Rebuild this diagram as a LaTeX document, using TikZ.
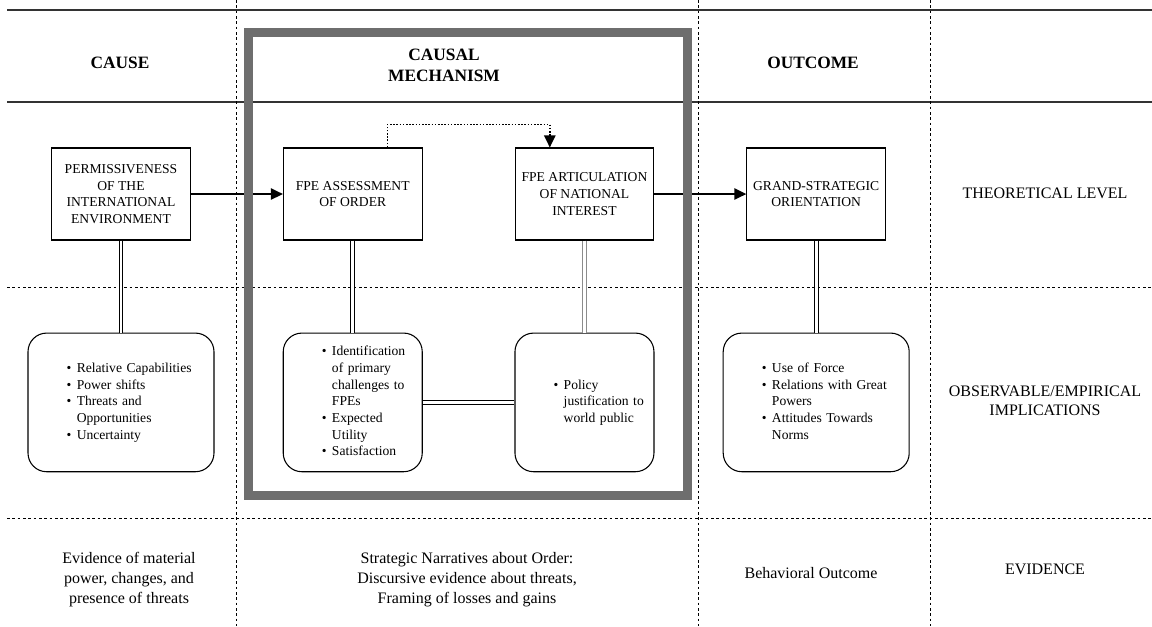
\documentclass[tikz,border=0pt]{standalone}
\usepackage{fontspec}
\setmainfont{Liberation Serif}
\usetikzlibrary{arrows.meta,positioning}
\definecolor{mechgray}{HTML}{6E6E6E}
\newcommand{\bulletlist}[1]{\noindent\begin{tabular}{@{\hspace{29pt}}c@{\hspace{4pt}}l@{}}#1\end{tabular}}
\tikzset{
    %Define standard arrow tip
    >={Triangle[length=9pt,width=8.5pt]},
    %Define style for boxes
    levelbox/.style={
           rectangle,
           draw=black, line width=0.8pt,
           minimum width=104pt,
           minimum height=69pt,
           align=center,
           font=\fontsize{10.2}{12.5}\selectfont},
    obsbox/.style={
           rectangle,
           rounded corners=14pt,
           draw=black, line width=0.8pt,
           inner sep=0pt,
           text width=#1,
           minimum height=104pt,
           align=left,
           font=\fontsize{10.2}{12.5}\selectfont},
    obsbox/.default=104.25pt,
    colhead/.style={font=\fontsize{13}{15.75}\selectfont\bfseries, align=center},
    rowlabel/.style={font=\fontsize{12}{14.25}\selectfont, align=center},
    evid/.style={font=\fontsize{12}{15}\selectfont, align=center},
    % Define arrow style
    pil/.style={->, line width=1.3pt},
    dotpil/.style={->, line width=1.2pt, dash pattern=on 1.2pt off 1.2pt},
    dline/.style={double, double distance=2pt, line width=0.75pt},
    solidrule/.style={line width=1.3pt, draw=black!80},
    gridline/.style={line width=0.7pt, dash pattern=on 2pt off 2pt}
}
\begin{document}
\begin{tikzpicture}[x=0.75pt,y=-0.75pt,node distance=69pt]
\useasboundingbox (0,0) rectangle (1152,626);

 %table lines
\draw[solidrule] (7,10) -- (1152,10);
\draw[solidrule] (7,102) -- (1152,102);
\foreach \y in {287,518}
  \draw[gridline] (7,\y) -- (1152,\y);
\foreach \x in {236,698,930}
  \draw[gridline] (\x,0) -- (\x,626);

 %column heads
\node[colhead] (cause) at (120,63) {CAUSE};
\node[colhead] (mech) at (444,65) {CAUSAL\\MECHANISM};
\node[colhead] (outcome) at (813,63) {OUTCOME};

 %row labels
\node[rowlabel] (theory) at (1045,193) {THEORETICAL LEVEL};
\node[rowlabel] (observ) at (1045,401) {OBSERVABLE/EMPIRICAL\\IMPLICATIONS};
\node[rowlabel] (evidence) at (1045,569) {EVIDENCE};

 %nodes
\node[levelbox] (perm) at (121,194) {PERMISSIVENESS\\OF THE\\INTERNATIONAL\\ENVIRONMENT};
\node[levelbox, right=of perm] (assess) {FPE ASSESSMENT\\OF ORDER};
\node[levelbox, right=of assess] (artic) {FPE ARTICULATION\\OF NATIONAL\\INTEREST};
\node[levelbox, right=of artic] (grand) {GRAND-STRATEGIC\\ORIENTATION};

\node[obsbox=139.5pt, below=of perm] (obsP) {\bulletlist{
  \textbullet & Relative Capabilities\\
  \textbullet & Power shifts\\
  \textbullet & Threats and\\
   & Opportunities\\
  \textbullet & Uncertainty}};
\node[obsbox, below=of assess] (obsA) {\bulletlist{
  \textbullet & Identification\\
   & of primary\\
   & challenges to\\
   & FPEs\\
  \textbullet & Expected\\
   & Utility\\
  \textbullet & Satisfaction}};
\node[obsbox, below=of artic] (obsN) {\bulletlist{
  \textbullet & Policy\\
   & justification to\\
   & world public}};
\node[obsbox=139.5pt, below=of grand] (obsG) {\bulletlist{
  \textbullet & Use of Force\\
  \textbullet & Relations with Great\\
   & Powers\\
  \textbullet & Attitudes Towards\\
   & Norms}};

 %evidence
\node[evid] (evmat) at (129,580) {Evidence of material\\power, changes, and\\presence of threats};
\node[evid] (evnarr) at (467,580) {Strategic Narratives about Order:\\Discursive evidence about threats,\\Framing of losses and gains};
\node[evid] (evbeh) at (811,573) {Behavioral Outcome};

 %connectors
\draw[pil] (perm) -- (assess);
\draw[pil] (artic) -- (grand);
\draw[dotpil] ([xshift=26pt]assess.north) -- ++(0,-23) -| ([xshift=-26pt]artic.north);
\draw[dline] (perm.south) -- (obsP.north);
\draw[dline] (assess.south) -- (obsA.north);
\draw[dline, draw=black!45] (artic.south) -- (obsN.north);
\draw[dline] (grand.south) -- (obsG.north);
\draw[dline] (obsA) -- (obsN);

 %causal mechanism frame
\draw[line width=6.75pt, mechgray] (248,32) rectangle (687,495);

\end{tikzpicture}
\end{document}
